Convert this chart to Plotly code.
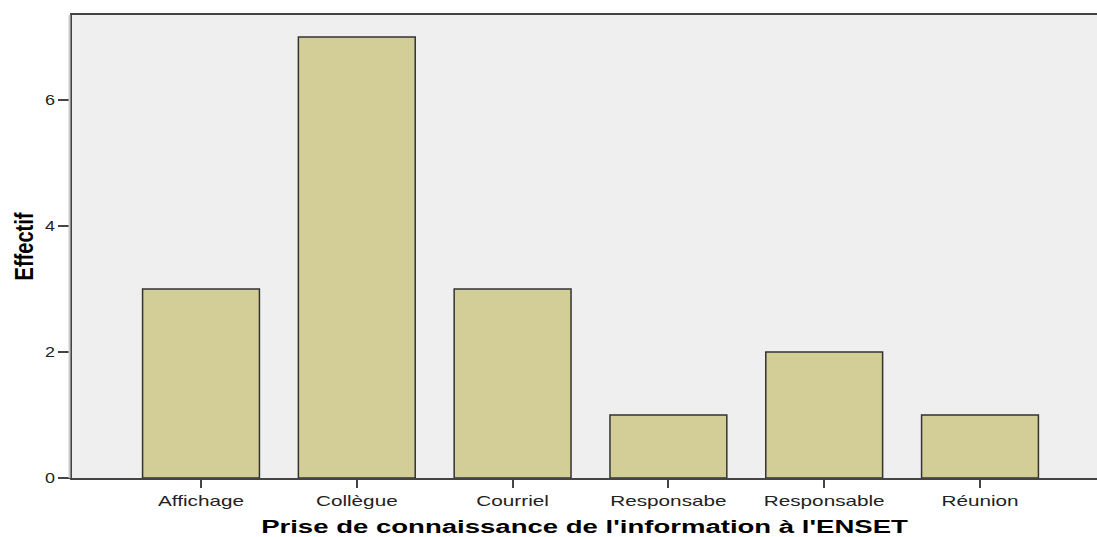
import plotly.graph_objects as go

categories = ["Affichage", "Collègue", "Courriel", "Responsabe", "Responsable", "Réunion"]
counts = [3, 7, 3, 1, 2, 1]
y_ticks = [0, 2, 4, 6]

fig = go.Figure()
fig.add_trace(go.Bar(
    x=categories, y=counts, width=0.75,
    marker=dict(color="#d3ce97", line=dict(color="#333333", width=1.5)),
    hoverinfo="x+y",
))

fig.update_layout(
    width=1097, height=537,
    margin=dict(l=72, r=0, t=15, b=59),
    paper_bgcolor="white", plot_bgcolor="#efefef",
    showlegend=False,
    xaxis=dict(
        type="category", range=[-0.828, 5.751],
        showline=True, linecolor="#444444", linewidth=2, mirror=True,
        ticks="outside", ticklen=8, tickcolor="#444444", tickwidth=2,
        showgrid=False, zeroline=False,
        tickfont=dict(family="Liberation Sans, Arial", size=15, color="#222222"),
        title=dict(text="Prise de connaissance de l'information à l'ENSET",
                   font=dict(family="Liberation Sans, Arial", size=18, color="black", weight="bold"),
                   standoff=13),
    ),
    yaxis=dict(
        range=[0, 7.35],
        tickvals=y_ticks,
        showline=True, linecolor="#444444", linewidth=2,
        ticks="outside", ticklen=12, tickcolor="#444444", tickwidth=2,
        showgrid=False, zeroline=False,
        tickfont=dict(family="Liberation Sans, Arial", size=15, color="#222222"),
        title=dict(text="Effectif",
                   font=dict(family="Liberation Sans, Arial", size=25,
                             color="black", weight="bold"),
                   standoff=6),
    ),
    shapes=[dict(type="line", xref="paper", yref="paper",
                 x0=-2.5 / 1025, x1=-2.5 / 1025, y0=0, y1=1,
                 line=dict(color="#cccccc", width=2))],
)

post = """
document.body.style.margin = '0';
var gd = document.getElementById('{plot_id}');
function stretch(sel, k) {
  gd.querySelectorAll(sel).forEach(function(t) {
    var w = t.getComputedTextLength();
    t.setAttribute('textLength', (w * k).toFixed(1));
    t.setAttribute('lengthAdjust', 'spacingAndGlyphs');
  });
}
stretch('.xtick text', 1.38);
stretch('.ytick text', 1.2);
stretch('.g-xtitle text', 1.53);
var yt = gd.querySelector('.g-ytitle text');
if (yt) { yt.setAttribute('textLength', '68'); yt.setAttribute('lengthAdjust', 'spacingAndGlyphs'); }
"""

fig.write_html("out.html", post_script=post, config={"displayModeBar": False})
